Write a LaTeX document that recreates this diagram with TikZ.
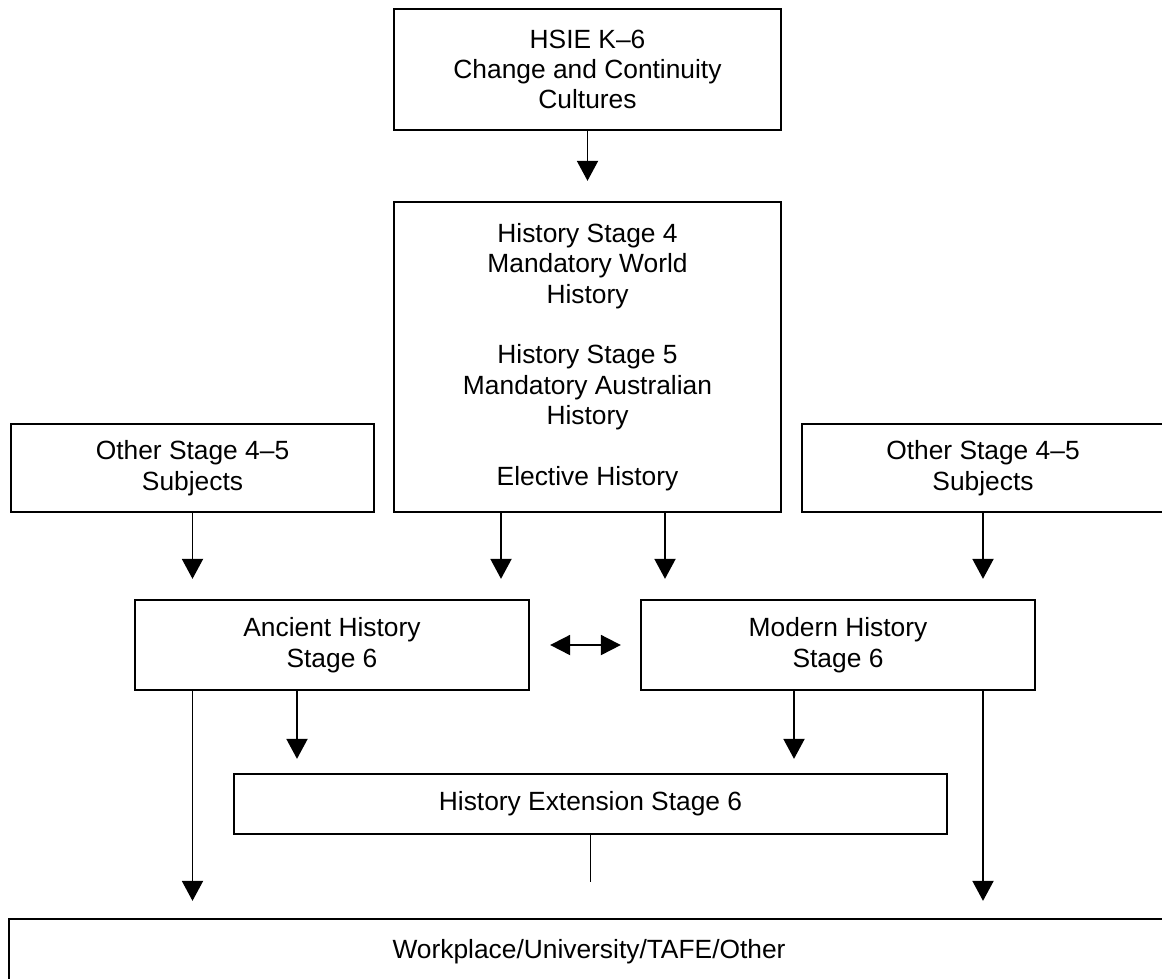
\documentclass[tikz,border=0pt]{standalone}
\usepackage{fontspec}
\setmainfont{Liberation Sans}
\usetikzlibrary{arrows.meta,calc}
\newlength\pxl
\setlength\pxl{0.02cm}
\begin{document}
\begin{tikzpicture}[x=0.02cm,y=-0.02cm,
  box/.style={draw,line width=1.3pt,rectangle,inner sep=0pt,align=center,
    font=\fontsize{15}{17.3}\selectfont},
  arr/.style={line width=1.1pt,-{Triangle[length=0.4cm,width=0.42cm]}},
  dbl/.style={line width=1.1pt,{Triangle[length=0.4cm,width=0.4cm]}-{Triangle[length=0.4cm,width=0.4cm]}},
  plain/.style={line width=1.1pt}]
\useasboundingbox (0,0) rectangle (1162,978);
\node[box,minimum width=387\pxl,minimum height=121\pxl] (top) at (587.5,69.5)
  {HSIE K–6\\Change and Continuity\\Cultures};
\node[box,minimum width=387\pxl,minimum height=310\pxl] (mid) at (587.5,357)
  {History Stage 4\\Mandatory World\\History\\[17.3pt]History Stage 5\\Mandatory Australian\\History\\[17.3pt]Elective History};
\node[box,minimum width=363\pxl,minimum height=88\pxl] (lo) at (192.5,468)
  {Other Stage 4–5\\Subjects};
\node[box,minimum width=362\pxl,minimum height=88\pxl] (ro) at (983,468)
  {Other Stage 4–5\\Subjects};
\node[box,minimum width=394\pxl,minimum height=90\pxl] (an) at (332,645)
  {Ancient History\\Stage 6};
\node[box,minimum width=394\pxl,minimum height=90\pxl] (mo) at (838,645)
  {Modern History\\Stage 6};
\node[box,minimum width=713\pxl,minimum height=60\pxl] (he) at (590.5,804)
  {History Extension Stage 6};
\node[box,minimum width=1160\pxl,minimum height=66\pxl] (bot) at (589,952)
  {Workplace/University/TAFE/Other};
\coordinate (m1) at ($(mid.south)+(-86.5,0)$);
\coordinate (m2) at ($(mid.south)+(77.5,0)$);
\coordinate (a1) at ($(an.south)+(-35,0)$);
\coordinate (b1) at ($(mo.south)+(-44,0)$);
\draw[arr,shorten >=20\pxl] (top.south) -- (mid.north);
\draw[arr,shorten >=20\pxl] (lo.south) -- (lo.south |- an.north);
\draw[arr,shorten >=20\pxl] (m1) -- (m1 |- an.north);
\draw[arr,shorten >=20\pxl] (m2) -- (m2 |- mo.north);
\draw[arr,shorten >=20\pxl] (ro.south) -- (ro.south |- mo.north);
\draw[dbl,shorten <=20\pxl,shorten >=19\pxl] (an.east) -- (mo.west);
\draw[arr,shorten >=14\pxl] (a1) -- (a1 |- he.north);
\draw[arr,shorten >=14\pxl] (b1) -- (b1 |- he.north);
\draw[arr,shorten >=17\pxl] (an.south -| lo.south) -- (bot.north -| lo.south);
\draw[arr,shorten >=17\pxl] (mo.south -| ro.south) -- (bot.north -| ro.south);
\draw[plain,shorten >=36\pxl] (he.south) -- (he.south |- bot.north);
\end{tikzpicture}
\end{document}
